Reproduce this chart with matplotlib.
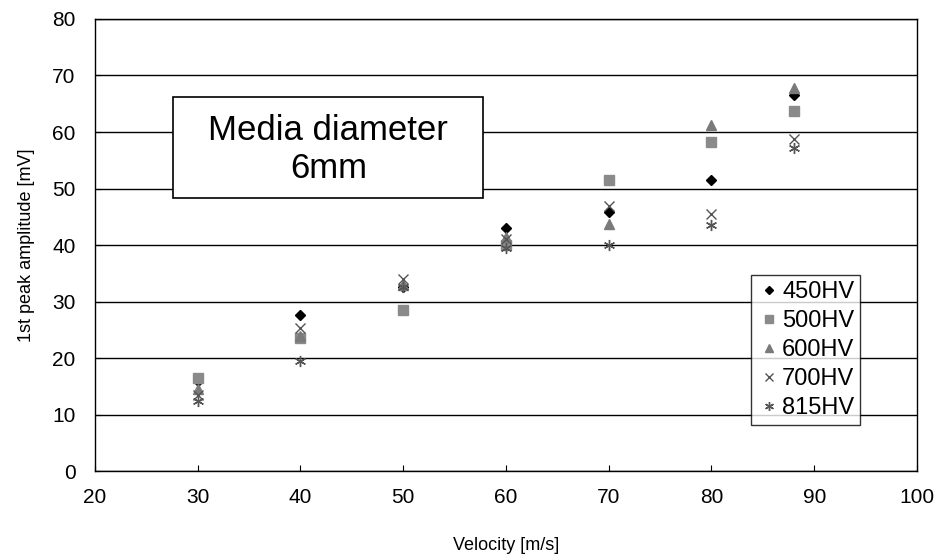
import matplotlib
matplotlib.use("Agg")
import matplotlib.pyplot as plt
from matplotlib.patches import Rectangle

velocity = [30, 40, 50, 60, 70, 80, 88]
hv_450 = [16.0, 27.7, 32.5, 43.0, 45.8, 51.5, 66.5]
hv_500 = [16.5, 23.5, 28.5, 40.0, 51.5, 58.2, 63.8]
hv_600 = [14.5, 24.0, 33.0, 41.5, 43.7, 61.2, 67.8]
hv_700 = [13.5, 25.3, 34.0, 41.0, 47.0, 45.5, 58.7]
hv_815 = [12.5, 19.5, 32.5, 39.5, 40.0, 43.5, 57.2]
labels = ["450HV", "500HV", "600HV", "700HV", "815HV"]

plt.rcParams['font.family'] = ['Liberation Sans', 'DejaVu Sans']
fig = plt.figure(figsize=(9.4, 5.57), dpi=100)
ax = fig.add_axes([0.101, 0.154, 0.8745, 0.812])

styles = [
    dict(marker='D', color='black', ms=5.5, mec='black'),
    dict(marker='s', color='#8a8a8a', ms=6.5, mec='#8a8a8a'),
    dict(marker='^', color='#7a7a7a', ms=6.5, mec='#7a7a7a'),
    dict(marker='x', color='#555555', ms=7, mew=1.0),
    dict(marker=(6, 2, 0), color='#555555', ms=8, mew=1.0),
]
series = [hv_450, hv_500, hv_600, hv_700, hv_815]
for vals, lab, st in zip(series, labels, styles):
    ax.plot(velocity, vals, linestyle='none', label=lab, **st)

ax.set_xlim(20, 100)
ax.set_ylim(0, 80)
ax.set_xticks(range(20, 101, 10))
ax.set_yticks(range(0, 81, 10))
ax.grid(axis='y', color='black', linewidth=1.0)
ax.set_axisbelow(True)
ax.tick_params(axis='both', labelsize=15, length=4, direction='in')
ax.tick_params(axis='x', pad=12)
ax.tick_params(axis='y', pad=14)
for sp in ax.spines.values():
    sp.set_color('black')
    sp.set_linewidth(1.0)
ax.set_xlabel("Velocity [m/s]", fontsize=13, labelpad=22)
ax.set_ylabel("1st peak amplitude [mV]", fontsize=13, labelpad=12)

ax.add_patch(Rectangle((0.0949, 0.604), 0.377, 0.223, transform=ax.transAxes,
                       fc='white', ec='black', lw=1.2, zorder=3))
ax.text(0.284, 0.712, "Media diameter\n6mm", transform=ax.transAxes,
        ha='center', va='center', fontsize=25, linespacing=1.2, zorder=4)

leg = ax.legend(loc='lower right', bbox_to_anchor=(0.931, 0.102), fontsize=17,
                frameon=True, fancybox=False, edgecolor='black',
                handletextpad=0.05, handlelength=1.0, borderpad=0.25,
                labelspacing=0.3, borderaxespad=0, markerscale=0.8)
leg.get_frame().set_linewidth(1.0)

fig.savefig("out.png", dpi=100)
